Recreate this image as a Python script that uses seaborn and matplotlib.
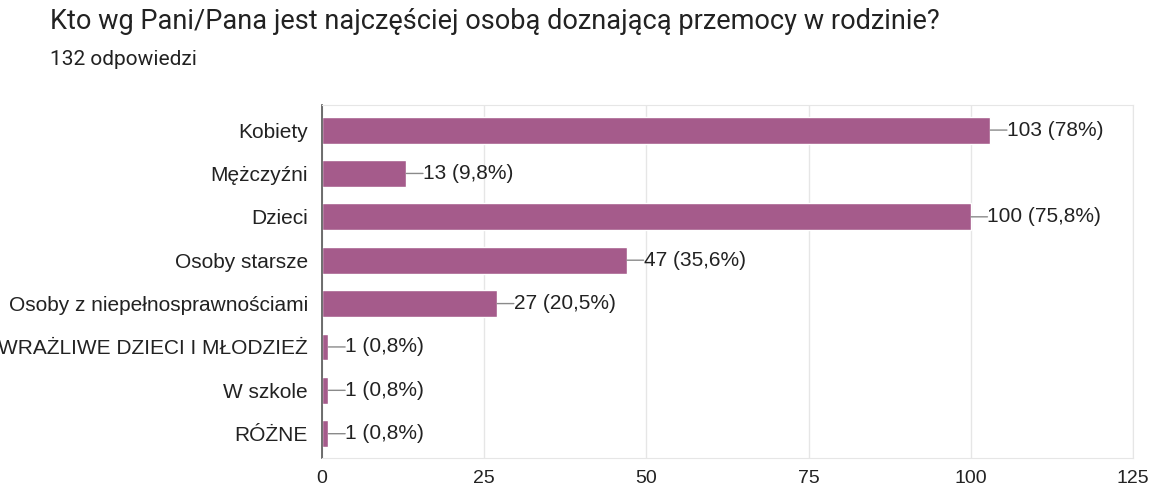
import pandas as pd
import matplotlib.pyplot as plt
import seaborn as sns

# survey answers
categories = ["Kobiety", "Mężczyźni", "Dzieci", "Osoby starsze",
              "Osoby z niepełnosprawnościami", "WRAŻLIWE DZIECI I MŁODZIEŻ",
              "W szkole", "RÓŻNE"]
counts = [103, 13, 100, 47, 27, 1, 1, 1]
labels = ["103 (78%)", "13 (9,8%)", "100 (75,8%)", "47 (35,6%)",
          "27 (20,5%)", "1 (0,8%)", "1 (0,8%)", "1 (0,8%)"]
xticks = [0, 25, 50, 75, 100, 125]

df = pd.DataFrame({"kategoria": categories, "liczba": counts})

sns.set_style("whitegrid")
plt.rcParams["font.family"] = ["Liberation Sans", "DejaVu Sans"]

fig = plt.figure(figsize=(11.52, 4.88), dpi=100)
ax = fig.add_axes([0.2795, 0.0615, 0.704, 0.7235])

sns.barplot(data=df, x="liczba", y="kategoria", color="#a55b8b",
            saturation=1, width=0.62, ax=ax)

# value labels with a short leader line
for i, (v, lab) in enumerate(zip(counts, labels)):
    ax.annotate(lab, xy=(v, i), xytext=(12, 0), textcoords="offset points",
                va="center", ha="left", fontsize=15, color="#222222",
                arrowprops=dict(arrowstyle="-", color="#8a8a8a", lw=1,
                                patchA=None, shrinkA=0, shrinkB=0,
                                relpos=(0, 0.5)))

ax.set_xlim(0, 125)
ax.set_ylim(len(categories) - 0.44, -0.58)
ax.set_xticks(xticks)
ax.set_xlabel("")
ax.set_ylabel("")
ax.tick_params(axis="both", colors="#222222", length=0)
ax.tick_params(axis="y", labelsize=15, pad=10)
ax.tick_params(axis="x", labelsize=14, pad=9)
ax.xaxis.grid(True, color="#e6e6e6", lw=1)
ax.yaxis.grid(False)
for s in ["top", "right", "bottom"]:
    ax.spines[s].set_color("#e6e6e6")
ax.spines["left"].set_color("#555555")
ax.spines["left"].set_linewidth(1.2)

fig.text(0.043, 0.955, "Kto wg Pani/Pana jest najczęściej osobą doznającą przemocy w rodzinie?",
         fontsize=19.5, color="#222222", va="center", family=["Roboto", "DejaVu Sans"])
fig.text(0.043, 0.879, "132 odpowiedzi", fontsize=15, color="#222222", va="center",
         family=["Roboto", "DejaVu Sans"])

fig.savefig("out.png", dpi=100)
